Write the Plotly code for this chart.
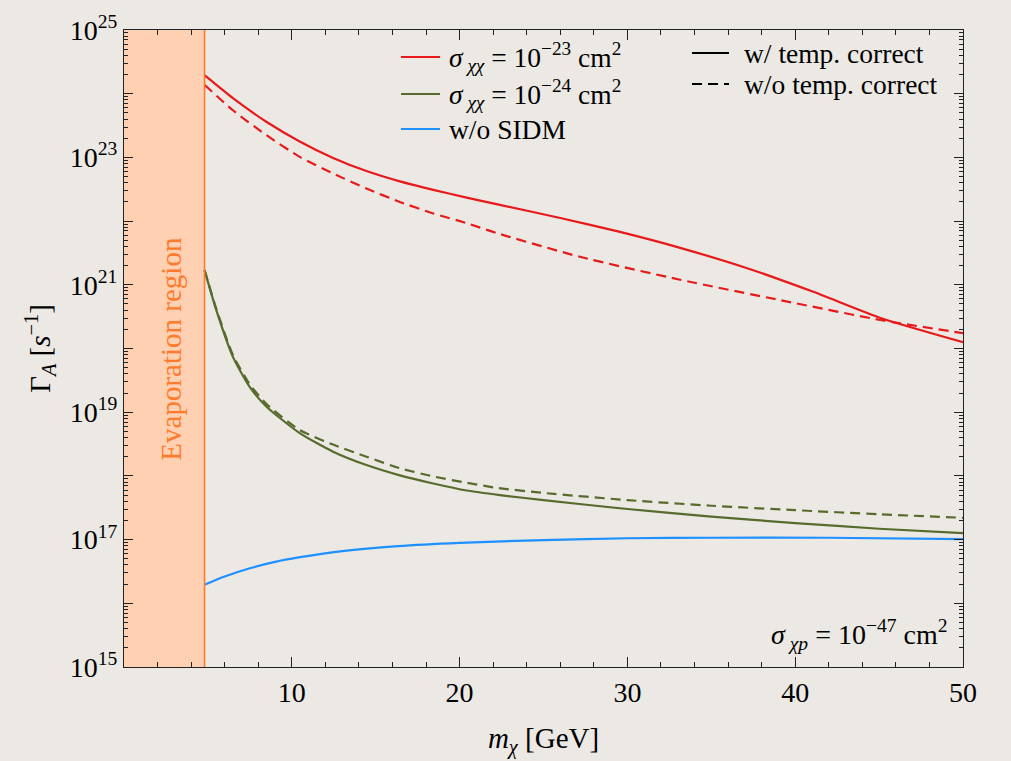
import plotly.graph_objects as go

# ---------------- data ----------------
EVAP_MAX = 4.8  # GeV, upper edge of evaporation region

red_solid_x = [4.8, 6.49, 8.48, 10.47, 12.46, 14.45, 16.44, 18.43, 20.42, 22.4, 26.0, 29.56, 33.14, 37.14, 41.08, 45.08, 50.0]
red_solid_y = [1.95e24, 8.5e23, 3.63e23, 1.78e23, 9.8e22, 6.1e22, 4.2e22, 3.09e22, 2.34e22, 1.8e22,
               1.12e22, 6.76e21, 3.80e21, 1.82e21, 7.76e20, 3.02e20, 1.26e20]

red_dash_x = [4.8, 6.49, 8.48, 10.47, 12.46, 14.45, 16.44, 18.43, 20.42, 22.2, 27.17, 33.14, 39.1, 45.08, 50.0]
red_dash_y = [1.38e24, 5.5e23, 2.24e23, 1.02e23, 5.6e22, 3.24e22, 2.0e22, 1.32e22, 9.3e21, 6.5e21,
              2.75e21, 1.2e21, 5.75e20, 2.8e20, 1.74e20]

green_solid_x = [4.8, 5.5, 6.49, 7.49, 8.48, 10.47, 12.46, 14.45, 16.44, 18.43, 20.42, 22.4, 25.0, 30.0, 35.0, 40.0, 45.0, 50.0]
green_solid_y = [1.7e21, 4.0e20, 7.4e19, 2.5e19, 1.23e19, 4.7e18, 2.4e18, 1.48e18, 1.02e18, 7.6e17,
                 5.9e17, 5.0e17, 4.17e17, 3.02e17, 2.29e17, 1.82e17, 1.48e17, 1.26e17]

green_dash_x = [4.8, 5.5, 6.49, 7.49, 8.48, 10.47, 12.46, 14.45, 16.44, 18.43, 20.42, 22.2, 25.0, 30.0, 35.0, 40.0, 45.0, 50.0]
green_dash_y = [1.7e21, 4.2e20, 7.9e19, 2.75e19, 1.35e19, 5.25e18, 3.1e18, 2.0e18, 1.32e18, 9.8e17,
                7.8e17, 6.5e17, 5.4e17, 4.17e17, 3.4e17, 2.9e17, 2.5e17, 2.2e17]

blue_x = [4.8, 6.0, 7.5, 9.0, 10.4, 13.0, 16.3, 20.0, 25.0, 30.0, 35.0, 42.0, 50.0]
blue_y = [1.95e16, 2.63e16, 3.55e16, 4.47e16, 5.25e16, 6.6e16, 7.9e16, 8.9e16, 9.8e16, 1.05e17, 1.07e17, 1.07e17, 1.02e17]

x_ticks = [10, 20, 30, 40, 50]
y_decades = list(range(15, 26))

# ---------------- styling ----------------
RED = "#E8191A"
GREEN = "#566B2C"
BLUE = "#1E90FF"
ORANGE = "#FF7A2A"
PEACH = "#FFD0B2"
BG = "#ECE9E5"
FONT = "Liberation Serif, Times New Roman, serif"
DASH = "10px,6px"

fig = go.Figure()

def add_line(x, y, color, dash=None):
    fig.add_trace(go.Scatter(
        x=x, y=y, mode="lines",
        line=dict(color=color, width=2.2, dash=dash or "solid", shape="spline", smoothing=0.6),
        showlegend=False, hoverinfo="skip"))

add_line(red_dash_x, red_dash_y, RED, DASH)
add_line(red_solid_x, red_solid_y, RED)
add_line(green_dash_x, green_dash_y, GREEN, DASH)
add_line(green_solid_x, green_solid_y, GREEN)
add_line(blue_x, blue_y, BLUE)

# evaporation region
fig.add_shape(type="rect", xref="x", yref="paper", x0=0, x1=EVAP_MAX, y0=0, y1=1,
              fillcolor=PEACH, line=dict(width=0), layer="below")
fig.add_shape(type="line", xref="x", yref="paper", x0=EVAP_MAX, x1=EVAP_MAX, y0=0, y1=1,
              line=dict(color=ORANGE, width=1.6), layer="above")
fig.add_annotation(x=EVAP_MAX / 2 + 0.35, xref="x", y=0.5, yref="paper",
                   text="Evaporation region", textangle=-90, showarrow=False,
                   font=dict(family=FONT, size=29, color=ORANGE))

# legend (drawn manually in paper coordinates)
W, H = 1011, 761
L, R, T, B = 124, 48, 30, 94
pw, ph = W - L - R, H - T - B

def px(xp):
    return (xp - L) / pw

def py(yp):
    return 1 - (yp - T) / ph

legend_left = [
    (RED, "<i>σ</i><sub> <i>χχ</i></sub> = 10<sup>−23</sup> cm<sup>2</sup>", 57),
    (GREEN, "<i>σ</i><sub> <i>χχ</i></sub> = 10<sup>−24</sup> cm<sup>2</sup>", 94),
    (BLUE, "w/o SIDM", 129),
]
for col, txt, yp in legend_left:
    fig.add_shape(type="line", xref="paper", yref="paper", x0=px(401), x1=px(440),
                  y0=py(yp), y1=py(yp), line=dict(color=col, width=2.2))
    fig.add_annotation(xref="paper", yref="paper", x=px(447), y=py(yp), text=txt,
                       showarrow=False, xanchor="left", yanchor="middle",
                       font=dict(family=FONT, size=27.5, color="black"))

legend_right = [("solid", "w/ temp. correct", 53), (DASH, "w/o temp. correct", 84)]
for dash, txt, yp in legend_right:
    fig.add_shape(type="line", xref="paper", yref="paper", x0=px(692), x1=px(729),
                  y0=py(yp), y1=py(yp), line=dict(color="black", width=2.2, dash=dash))
    fig.add_annotation(xref="paper", yref="paper", x=px(742), y=py(yp), text=txt,
                       showarrow=False, xanchor="left", yanchor="middle",
                       font=dict(family=FONT, size=27.5, color="black"))

fig.add_annotation(xref="paper", yref="paper", x=px(950), y=py(634),
                   text="<i>σ</i><sub> <i>χp</i></sub> = 10<sup>−47</sup> cm<sup>2</sup>",
                   showarrow=False, xanchor="right", yanchor="middle",
                   font=dict(family=FONT, size=28, color="black"))

# axes
y_tickvals = [10.0 ** d for d in y_decades]
y_ticktext = [f"10<sup>{d}</sup>" if d % 2 == 1 else "" for d in y_decades]
y_minor = [m * 10.0 ** d for d in y_decades[:-1] for m in range(2, 10)]

fig.update_xaxes(
    range=[0, 50], tickvals=x_ticks, ticktext=[str(v) for v in x_ticks],
    ticks="inside", ticklen=10, tickwidth=1, tickcolor="#222",
    showline=True, linecolor="#222", linewidth=1.2, mirror="allticks",
    showgrid=False, zeroline=False, automargin=False,
    minor=dict(dtick=2, tick0=0, ticks="inside", ticklen=5, tickcolor="#222", showgrid=False),
    tickfont=dict(family=FONT, size=28, color="black"),
    title=dict(text="<i>m</i><sub><i>χ</i></sub> [GeV]", font=dict(family=FONT, size=29, color="black"), standoff=20),
)
fig.update_yaxes(
    type="log", range=[15, 25], tickvals=y_tickvals, ticktext=y_ticktext,
    ticks="inside", ticklen=9, tickwidth=1, tickcolor="#222",
    showline=True, linecolor="#222", linewidth=1.2, mirror="allticks",
    showgrid=False, zeroline=False, automargin=False,
    minor=dict(tickvals=y_minor, ticks="inside", ticklen=4, tickcolor="#222", showgrid=False),
    tickfont=dict(family=FONT, size=28, color="black"),
    title=dict(text="Γ<sub><i>A</i></sub> [<i>s</i><sup>−1</sup>]", font=dict(family=FONT, size=29, color="black"), standoff=10),
)

fig.update_layout(
    width=W, height=H,
    margin=dict(l=L, r=R, t=T, b=B),
    paper_bgcolor=BG, plot_bgcolor=BG,
    showlegend=False,
)

fig.write_html("out.html")
